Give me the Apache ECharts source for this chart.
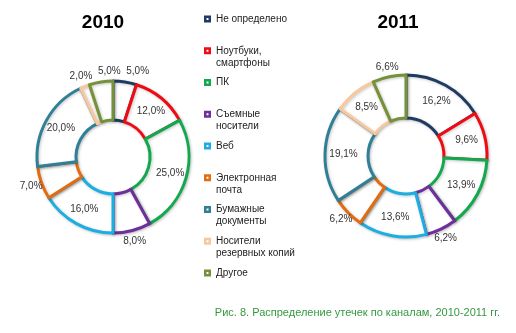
<!DOCTYPE html>
<html>
<head>
<meta charset="utf-8">
<script src="https://cdn.jsdelivr.net/npm/echarts@6/dist/echarts.min.js"></script>
<style>
  html, body { margin: 0; padding: 0; background: #fff; }
  #chart { width: 516px; height: 333px; }
</style>
</head>
<body>
<div id="chart"></div>
<script>
// Leak channels (legend order = slice order, clockwise from 12 o'clock)
const channels = [
  'Не определено',
  'Ноутбуки,\nсмартфоны',
  'ПК',
  'Съемные\nносители',
  'Веб',
  'Электронная\nпочта',
  'Бумажные\nдокументы',
  'Носители\nрезервных копий',
  'Другое'
];
const channelColors = ['#1F3B63', '#F00A14', '#12A84E', '#6E2E9C', '#1BAEE3', '#E26D10', '#2F7F97', '#F8C79C', '#75913A'];

// Share of leaks by channel, %
const share2010 = [5.0, 12.0, 25.0, 8.0, 16.0, 7.0, 20.0, 2.0, 5.0];
const share2011 = [16.2, 9.6, 13.9, 6.2, 13.6, 6.2, 19.1, 8.5, 6.6];

// Which slices carry their label outside the ring
const outside2010 = [true, false, false, true, false, true, false, true, true];
const outside2011 = [false, false, false, true, false, true, false, false, true];

const years = ['2010', '2011'];
const caption = 'Рис. 8. Распределение утечек по каналам, 2010-2011 гг.';

const FONT = '"Liberation Sans", Arial, sans-serif';
const fmt = v => v.toFixed(1).replace('.', ',') + '%';

// true when a slice's middle lies in the upper half of the ring
function upperHalf(values) {
  const total = values.reduce((a, b) => a + b, 0);
  let acc = 0;
  return values.map(v => {
    const mid = (acc + v / 2) / total;
    acc += v;
    return mid < 0.25 || mid > 0.75;
  });
}

function ring(values, outsideFlags, center, radius, labelRadius) {
  const labelText = { color: '#333', fontSize: 10, fontFamily: FONT };
  const upper = upperHalf(values);

  // transparent ring that only carries outer labels; the spaces keep
  // neighbouring labels apart when they are shifted sideways
  const labelRing = (showFn, shift) => ({
    type: 'pie',
    center: center,
    radius: [labelRadius - 1, labelRadius + 1],
    startAngle: 90,
    silent: true,
    avoidLabelOverlap: false,
    labelLayout: shift ? { hideOverlap: false, moveOverlap: 'shiftX' } : { hideOverlap: false },
    itemStyle: { color: 'rgba(0,0,0,0)', borderWidth: 0 },
    label: Object.assign({ position: 'inside', formatter: p => ' ' + fmt(p.value) + ' ' }, labelText),
    labelLine: { show: false },
    tooltip: { show: false },
    data: values.map((v, i) => ({
      name: channels[i],
      value: v,
      label: { show: showFn(i) }
    }))
  });

  return [
    {
      type: 'pie',
      center: center,
      radius: radius,
      startAngle: 90,
      avoidLabelOverlap: false,
      emphasis: { scale: false },
      itemStyle: {
        color: '#fff',
        borderWidth: 3,
        shadowBlur: 3,
        shadowColor: 'rgba(0,0,0,0.22)',
        shadowOffsetX: 1,
        shadowOffsetY: 1
      },
      label: Object.assign({ position: 'inside', formatter: p => fmt(p.value) }, labelText),
      labelLine: { show: false },
      data: values.map((v, i) => ({
        name: channels[i],
        value: v,
        itemStyle: { borderColor: channelColors[i] },
        label: { show: !outsideFlags[i] }
      }))
    },
    labelRing(i => outsideFlags[i] && upper[i], true),
    labelRing(i => outsideFlags[i] && !upper[i], false)
  ];
}

const legendIcon = 'path://M0,0H10V10H0Z M3.6,3.6V6.4H6.4V3.6Z';

const legends = channels.map((name, i) => {
  const centreY = 19 + i * 31.75;
  const multi = name.indexOf('\n') >= 0;
  return {
    left: 204,
    top: multi ? centreY - 18 : centreY - 6,
    padding: 0,
    orient: 'vertical',
    icon: legendIcon,
    itemWidth: 7,
    itemHeight: 7,
    itemGap: 0,
    // a blank leading line keeps the icon level with the first text line
    formatter: n => (n.indexOf('\n') >= 0 ? ' \n' + n : n),
    textStyle: { fontSize: 10, lineHeight: 12, color: '#222', fontFamily: FONT },
    data: [{
      name: name,
      itemStyle: { color: channelColors[i], borderWidth: 0 }
    }]
  };
});

const chart = echarts.init(document.getElementById('chart'), null, { renderer: 'canvas' });
chart.setOption({
  animation: false,
  backgroundColor: '#fff',
  legend: legends,
  graphic: [
    { type: 'text', x: 103, y: 23, style: { text: years[0], align: 'center', verticalAlign: 'middle', fill: '#000', font: 'bold 19px ' + FONT } },
    { type: 'text', x: 398, y: 23, style: { text: years[1], align: 'center', verticalAlign: 'middle', fill: '#000', font: 'bold 19px ' + FONT } },
    { type: 'text', x: 500, y: 313, style: { text: caption, align: 'right', verticalAlign: 'middle', fill: '#35983F', font: '11px ' + FONT } }
  ],
  series: [].concat(
    ring(share2010, outside2010, [113, 157], [37, 76], 84),
    ring(share2011, outside2011, [406, 156], [38, 81], 88)
  )
});
</script>
</body>
</html>
